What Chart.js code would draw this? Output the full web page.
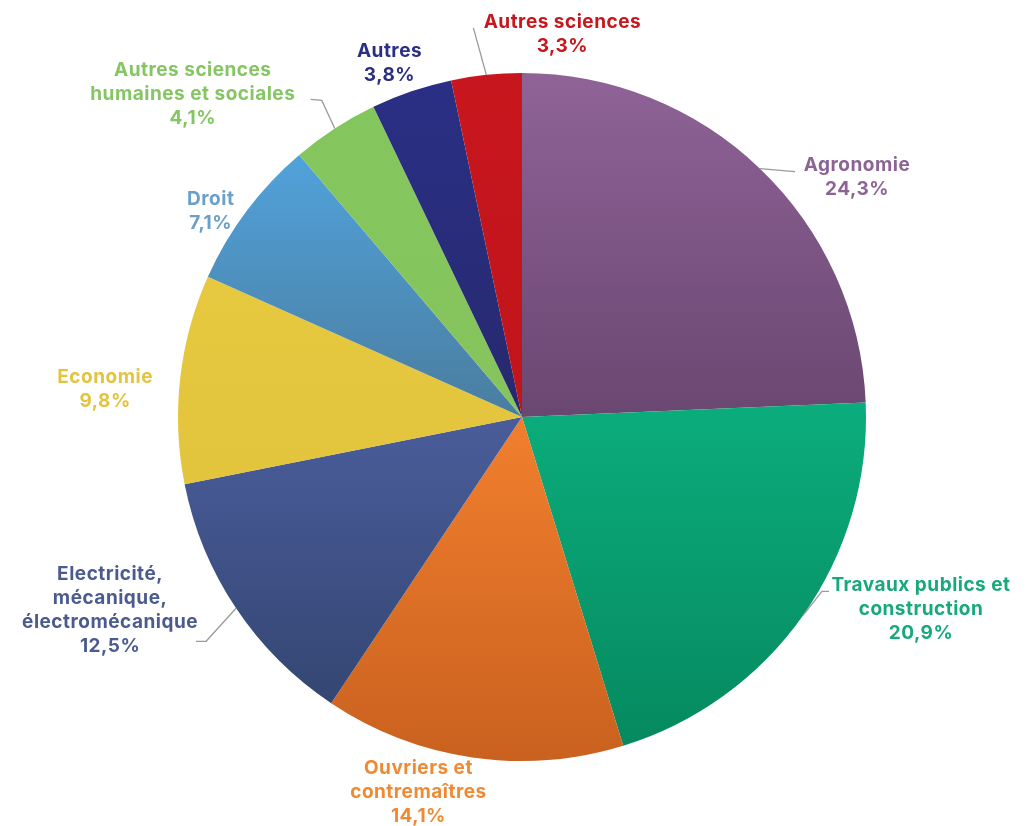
<!DOCTYPE html>
<html lang="fr">
<head>
  <meta charset="UTF-8">
  <title>Répartition par domaine</title>
  <script src="https://cdn.jsdelivr.net/npm/chart.js"></script>
  <style>
    html, body { margin: 0; padding: 0; background: #fff; }
    .wrap { width: 1036px; height: 826px; }
  </style>
</head>
<body>
<div class="wrap">
  <canvas id="pieChart" width="1036" height="826"></canvas>
</div>

<script>
  // data (clockwise from 12 o'clock)
  const categories = [
    ['Agronomie'],
    ['Travaux publics et', 'construction'],
    ['Ouvriers et', 'contremaîtres'],
    ['Electricité,', 'mécanique,', 'électromécanique'],
    ['Economie'],
    ['Droit'],
    ['Autres sciences', 'humaines et sociales'],
    ['Autres'],
    ['Autres sciences']
  ];
  const shares = [24.3, 20.9, 14.1, 12.5, 9.8, 7.1, 4.1, 3.8, 3.3];
  const shareLabels = ['24,3%', '20,9%', '14,1%', '12,5%', '9,8%', '7,1%', '4,1%', '3,8%', '3,3%'];

  // slice colours: top / bottom of each slice
  const topColors = ['#8f6397', '#0bad7c', '#f27f2e', '#4a5d9b', '#e6c93f', '#51a2db', '#84c65e', '#2a2f85', '#c8161d'];
  const bottomColors = ['#6a4771', '#06895f', '#c9611f', '#344672', '#e3c43d', '#4a7d9f', '#86c45c', '#27296e', '#c0141b'];
  const textColors = ['#8b6495', '#17a87c', '#ef8a33', '#4b5b8e', '#e3c43e', '#6a9fc9', '#86c563', '#2b2f82', '#c8161d'];

  // label placement relative to the outer mid point of each slice
  const labelOffsets = [[97, 9], [118, -6], [-54, 35], [-126, 2], [-75, 11], [-36, 1], [-142, -34], [-22, -28], [76, -41]];
  const leaders = [
    [[35, 3]],
    [[19, -24], [26, -24]],
    null,
    [[-30, 33], [-40, 33]],
    null,
    null,
    [[-13, -28], [-24, -29]],
    null,
    [[-13, -47]]
  ];

  const FONT = 'bold 19px Inter, "Open Sans", sans-serif';
  const LINE_H = 24;

  // vertical gradient fitted to each slice
  const sliceGradient = {
    id: 'sliceGradient',
    beforeDatasetsDraw(chart) {
      const ctx = chart.ctx;
      chart.getDatasetMeta(0).data.forEach((arc, i) => {
        const p = arc.getProps(['x', 'y', 'startAngle', 'endAngle', 'outerRadius']);
        const ys = [p.y, p.y + Math.sin(p.startAngle) * p.outerRadius, p.y + Math.sin(p.endAngle) * p.outerRadius];
        [Math.PI / 2, -Math.PI / 2, 1.5 * Math.PI].forEach(a => {
          if (a > p.startAngle && a < p.endAngle) ys.push(p.y + Math.sin(a) * p.outerRadius);
        });
        const g = ctx.createLinearGradient(0, Math.min(...ys), 0, Math.max(...ys));
        g.addColorStop(0, topColors[i]);
        g.addColorStop(1, bottomColors[i]);
        arc.options.backgroundColor = g;
      });
    }
  };

  const outsideLabels = {
    id: 'outsideLabels',
    afterDatasetsDraw(chart) {
      const ctx = chart.ctx;
      ctx.save();
      chart.getDatasetMeta(0).data.forEach((arc, i) => {
        const p = arc.getProps(['x', 'y', 'startAngle', 'endAngle', 'outerRadius']);
        const mid = (p.startAngle + p.endAngle) / 2;
        const ax = p.x + Math.cos(mid) * p.outerRadius;
        const ay = p.y + Math.sin(mid) * p.outerRadius;

        if (leaders[i]) {
          ctx.beginPath();
          ctx.moveTo(ax, ay);
          leaders[i].forEach(pt => ctx.lineTo(ax + pt[0], ay + pt[1]));
          ctx.strokeStyle = '#9a9a9a';
          ctx.lineWidth = 1.3;
          ctx.stroke();
        }

        const lines = categories[i].concat([shareLabels[i]]);
        const cx = ax + labelOffsets[i][0];
        const cy = ay + labelOffsets[i][1];
        const y0 = cy - (lines.length - 1) * LINE_H / 2;
        ctx.font = FONT;
        ctx.letterSpacing = '0.5px';
        ctx.fillStyle = textColors[i];
        ctx.textAlign = 'center';
        ctx.textBaseline = 'middle';
        lines.forEach((t, k) => ctx.fillText(t, cx, y0 + k * LINE_H));
      });
      ctx.restore();
    }
  };

  new Chart(document.getElementById('pieChart'), {
    type: 'pie',
    data: {
      labels: categories.map(c => c.join(' ')),
      datasets: [{
        data: shares,
        backgroundColor: topColors,
        borderWidth: 0
      }]
    },
    options: {
      responsive: false,
      animation: false,
      layout: { padding: { left: 178, right: 170, top: 73, bottom: 65 } },
      plugins: {
        legend: { display: false },
        tooltip: { enabled: false }
      }
    },
    plugins: [sliceGradient, outsideLabels]
  });
</script>
</body>
</html>
